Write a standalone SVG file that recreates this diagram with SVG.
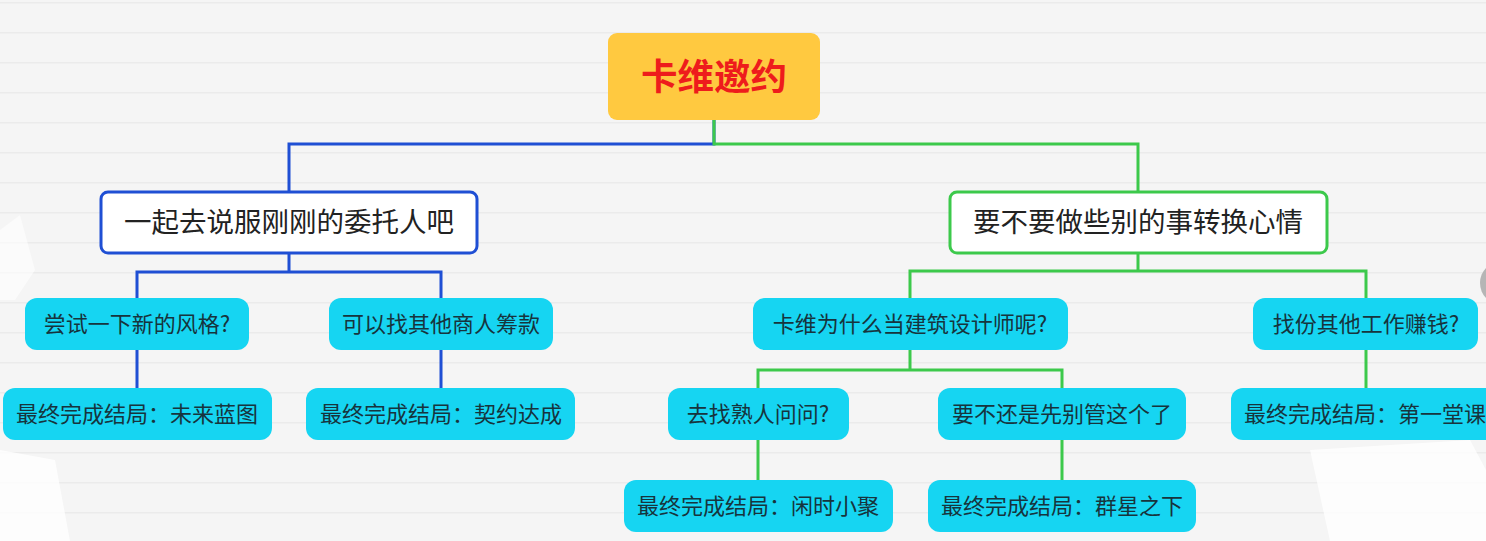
<svg xmlns="http://www.w3.org/2000/svg" width="1486" height="541" viewBox="0 0 1486 541">
<defs>
<pattern id="lines" x="0" y="2" width="1486" height="30" patternUnits="userSpaceOnUse">
<rect width="1486" height="30" fill="#f5f5f5"/>
<rect y="0" width="1486" height="1.5" fill="#ebebeb"/>
</pattern>
</defs>
<style>
.root{fill:#ffc940;}
.rootT{font-family:"Noto Sans CJK SC","Noto Sans",sans-serif;font-size:36.5px;font-weight:700;fill:#ee1c1c;}
.l1{fill:#ffffff;stroke-width:3;}
.l1T{font-family:"Noto Sans CJK SC","Noto Sans",sans-serif;font-size:27.5px;fill:#222222;}
.leaf{fill:#16d5f2;}
.leafT{font-family:"Noto Sans CJK SC","Noto Sans",sans-serif;font-size:22px;fill:#17343d;}
.blue{stroke:#1f4fd4;}
.green{stroke:#3cc94b;}
.edge{fill:none;stroke-width:3;}
</style>
<rect width="1486" height="541" fill="url(#lines)"/>
<g id="decor">
<path d="M1310 450 L1470 440 L1486 470 L1486 541 L1330 541 Z" fill="#ffffff" opacity="0.8"/>
<path d="M0 450 L55 460 L70 541 L0 541 Z" fill="#ffffff" opacity="0.8"/>
<path d="M0 230 L20 215 L35 270 L15 300 L0 300 Z" fill="#ffffff" opacity="0.6"/>
<circle cx="1502" cy="283" r="22" fill="#b5b5b5"/>
</g>
<g id="connectors">
<path class="edge blue" d="M714 120 V144 H289 V192"/>
<path class="edge green" d="M714 120 V144 H1138 V192"/>
<path class="edge blue" d="M289 253 V272 H137 V298 M289 272 H441 V298"/>
<path class="edge blue" d="M137 350 V388 M441 350 V388"/>
<path class="edge green" d="M1138 253 V271 H910 V298 M1138 271 H1366 V298"/>
<path class="edge green" d="M910 350 V370 H758 V388 M910 370 H1062 V388"/>
<path class="edge green" d="M758 440 V480 M1062 440 V480 M1366 350 V388"/>
</g>
<g id="root">
<rect class="root" x="608" y="33" width="212" height="87" rx="9"/>
<text class="rootT" x="714" y="90" text-anchor="middle">卡维邀约</text>
</g>
<g id="n-left">
<rect class="l1 blue" x="101" y="192" width="376" height="61" rx="7"/>
<text class="l1T" x="289" y="232" text-anchor="middle">一起去说服刚刚的委托人吧</text>
</g>
<g id="n-right">
<rect class="l1 green" x="950" y="192" width="377" height="61" rx="7"/>
<text class="l1T" x="1138" y="232" text-anchor="middle">要不要做些别的事转换心情</text>
</g>
<g id="n-style">
<rect class="leaf" x="25" y="298" width="224" height="52" rx="12"/>
<text class="leafT" x="137" y="332" text-anchor="middle">尝试一下新的风格?</text>
</g>
<g id="n-end1">
<rect class="leaf" x="3" y="388" width="269" height="52" rx="12"/>
<text class="leafT" x="137" y="422" text-anchor="middle">最终完成结局：未来蓝图</text>
</g>
<g id="n-merchant">
<rect class="leaf" x="329" y="298" width="224" height="52" rx="12"/>
<text class="leafT" x="441" y="332" text-anchor="middle">可以找其他商人筹款</text>
</g>
<g id="n-end2">
<rect class="leaf" x="306" y="388" width="269" height="52" rx="12"/>
<text class="leafT" x="441" y="422" text-anchor="middle">最终完成结局：契约达成</text>
</g>
<g id="n-why">
<rect class="leaf" x="753" y="298" width="315" height="52" rx="12"/>
<text class="leafT" x="910" y="332" text-anchor="middle">卡维为什么当建筑设计师呢?</text>
</g>
<g id="n-ask">
<rect class="leaf" x="668" y="388" width="181" height="52" rx="12"/>
<text class="leafT" x="758" y="422" text-anchor="middle">去找熟人问问?</text>
</g>
<g id="n-end3">
<rect class="leaf" x="624" y="480" width="269" height="52" rx="12"/>
<text class="leafT" x="758" y="514" text-anchor="middle">最终完成结局：闲时小聚</text>
</g>
<g id="n-leave">
<rect class="leaf" x="938" y="388" width="248" height="52" rx="12"/>
<text class="leafT" x="1062" y="422" text-anchor="middle">要不还是先别管这个了</text>
</g>
<g id="n-end4">
<rect class="leaf" x="928" y="480" width="268" height="52" rx="12"/>
<text class="leafT" x="1062" y="514" text-anchor="middle">最终完成结局：群星之下</text>
</g>
<g id="n-job">
<rect class="leaf" x="1253" y="298" width="225" height="52" rx="12"/>
<text class="leafT" x="1366" y="332" text-anchor="middle">找份其他工作赚钱?</text>
</g>
<g id="n-end5">
<rect class="leaf" x="1231" y="388" width="270" height="52" rx="12"/>
<text class="leafT" x="1244" y="422">最终完成结局：第一堂课</text>
</g>
</svg>
